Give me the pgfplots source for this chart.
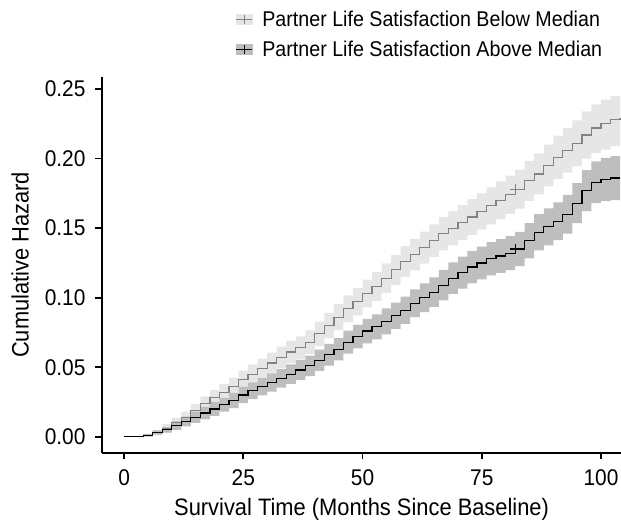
\documentclass[border=0pt]{standalone}
\usepackage{fontspec}
\setmainfont{Liberation Sans}[FakeStretch=0.92]
\usepackage{pgfplots}
\pgfplotsset{compat=1.18}
\usepgfplotslibrary{fillbetween}
\usepackage{pgfplotstable}
\definecolor{bandA}{RGB}{230,230,230}
\definecolor{bandB}{RGB}{190,190,190}
\definecolor{lineA}{RGB}{130,130,130}
\pgfplotstableread{
t G Gl Gu B Bl Bu
0 0 0 0 0 0 0
2 0 0 0.0005 0 0 0.0005
4 0.001 0.000 0.002 0.001 0 0.002
6 0.003 0.001 0.005 0.003 0.0015 0.0045
8 0.006 0.003 0.009 0.005 0.003 0.007
10 0.010 0.0065 0.0135 0.008 0.005 0.011
12 0.014 0.010 0.018 0.011 0.0075 0.0145
14 0.019 0.0145 0.0235 0.014 0.010 0.018
16 0.024 0.019 0.029 0.017 0.0125 0.0215
18 0.028 0.0225 0.0335 0.020 0.015 0.025
20 0.032 0.026 0.038 0.023 0.018 0.028
22 0.036 0.0297 0.0423 0.026 0.0205 0.0315
24 0.041 0.0344 0.0476 0.030 0.0242 0.0358
26 0.045 0.038 0.052 0.033 0.027 0.039
28 0.049 0.0418 0.0562 0.036 0.0298 0.0422
30 0.053 0.0455 0.0605 0.039 0.0325 0.0455
32 0.057 0.0492 0.0648 0.042 0.0353 0.0487
34 0.061 0.053 0.069 0.045 0.038 0.052
36 0.064 0.0558 0.0722 0.048 0.0408 0.0552
38 0.068 0.0595 0.0765 0.051 0.0436 0.0584
40 0.074 0.0652 0.0828 0.055 0.0474 0.0626
42 0.080 0.071 0.089 0.059 0.0512 0.0668
44 0.086 0.0767 0.0953 0.063 0.055 0.071
46 0.092 0.0824 0.1016 0.068 0.0597 0.0763
48 0.097 0.0872 0.1068 0.072 0.0635 0.0805
50 0.103 0.093 0.113 0.076 0.0672 0.0848
52 0.108 0.0977 0.1183 0.079 0.070 0.088
54 0.114 0.1034 0.1246 0.083 0.0737 0.0923
56 0.120 0.1092 0.1308 0.087 0.0775 0.0965
58 0.126 0.115 0.137 0.091 0.0812 0.1008
60 0.131 0.1197 0.1423 0.096 0.086 0.106
62 0.136 0.1245 0.1475 0.100 0.0897 0.1103
64 0.141 0.1292 0.1528 0.104 0.0934 0.1146
66 0.146 0.134 0.158 0.109 0.098 0.120
68 0.150 0.1377 0.1623 0.114 0.1027 0.1253
70 0.154 0.1414 0.1666 0.118 0.1065 0.1295
72 0.158 0.1452 0.1708 0.122 0.1103 0.1337
74 0.162 0.149 0.175 0.125 0.1132 0.1368
76 0.166 0.1527 0.1793 0.128 0.116 0.140
78 0.170 0.1564 0.1836 0.130 0.1179 0.1421
80 0.174 0.1602 0.1878 0.132 0.1198 0.1442
82 0.178 0.164 0.192 0.135 0.1226 0.1474
84 0.184 0.1697 0.1983 0.141 0.1283 0.1537
86 0.189 0.1743 0.2037 0.147 0.134 0.160
88 0.195 0.180 0.210 0.151 0.1377 0.1643
90 0.201 0.1855 0.2165 0.155 0.1414 0.1686
92 0.206 0.190 0.222 0.160 0.146 0.174
94 0.211 0.1945 0.2275 0.168 0.1537 0.1823
96 0.217 0.200 0.234 0.177 0.1623 0.1917
98 0.222 0.2042 0.2390 0.183 0.168 0.198
100 0.225 0.2065 0.2425 0.185 0.1695 0.2005
102 0.228 0.209 0.2450 0.186 0.1702 0.2018
104 0.229 0.2095 0.2460 0.186 0.170 0.202
}\km
\begin{document}
\begin{tikzpicture}
\begin{axis}[
  width=388.5pt, height=281.25pt, scale only axis,
  xmin=-4.6, xmax=104.2, ymin=-0.0115, ymax=0.2586,
  axis lines=left,
  axis line style={-, line width=1.3pt, black},
  tick style={line width=1.3pt, black},
  major tick length=5pt, tick align=outside,
  xtick={0,25,50,75,100},
  ytick={0,0.05,0.10,0.15,0.20,0.25},
  yticklabel style={/pgf/number format/.cd, fixed, fixed zerofill, precision=2, /tikz/.cd, xshift=-4pt},
  xticklabel style={yshift=-4pt},
  /pgf/number format/assume math mode=true,
  ticklabel style={font=\fontsize{17}{20}\selectfont},
  xlabel={Survival Time (Months Since Baseline)},
  ylabel={Cumulative Hazard},
  label style={font=\fontsize{17.8}{21}\selectfont},
  xlabel style={at={(axis description cs:0.5,-0.152)}, anchor=center},
  ylabel style={at={(axis description cs:-0.158,0.5)}, anchor=center},
  legend style={draw=none, fill=none, inner sep=0pt, at={(0.257,1)}, anchor=south west,
    yshift=12.9pt, row sep=7.3pt, column sep=6pt, font=\fontsize{16}{19}\selectfont,
    nodes={inner sep=1pt}, cells={anchor=west}},
]
\addlegendimage{legend image code/.code={
  \fill[bandA] (0pt,-3.75pt) rectangle (12pt,3.75pt);
  \draw[lineA, line width=0.9pt] (0pt,0pt) -- (12pt,0pt);
  \draw[lineA, line width=0.6pt] (6pt,-3.5pt) -- (6pt,3.5pt);}}
\addlegendentry{Partner Life Satisfaction Below Median}
\addlegendimage{legend image code/.code={
  \fill[bandB] (0pt,-3.75pt) rectangle (12pt,3.75pt);
  \draw[black, line width=0.9pt] (0pt,0pt) -- (12pt,0pt);
  \draw[black, line width=0.6pt] (6pt,-3.5pt) -- (6pt,3.5pt);}}
\addlegendentry{Partner Life Satisfaction Above Median}

\addplot[name path=gu, draw=none, const plot, forget plot] table[x=t,y=Gu]{\km};
\addplot[name path=gl, draw=none, const plot, forget plot] table[x=t,y=Gl]{\km};
\addplot[fill=bandA, draw=none, forget plot] fill between[of=gu and gl];
\addplot[name path=bu, draw=none, const plot, forget plot] table[x=t,y=Bu]{\km};
\addplot[name path=bl, draw=none, const plot, forget plot] table[x=t,y=Bl]{\km};
\addplot[fill=bandB, draw=none, forget plot] fill between[of=bu and bl];

\addplot[const plot, lineA, line width=0.9pt, forget plot] table[x=t,y=G]{\km};
\addplot[const plot, black, line width=0.9pt, forget plot] table[x=t,y=B]{\km};
\addplot[only marks, mark=+, mark size=3.75pt, lineA, mark options={line width=0.9pt}, forget plot] coordinates {(82,0.178)};
\addplot[only marks, mark=+, mark size=3.75pt, black, mark options={line width=0.9pt}, forget plot] coordinates {(82,0.135)};
\end{axis}
\pgfresetboundingbox
\path ([shift={(-76.5pt,-54.75pt)}]current axis.south west) rectangle ([shift={(0pt,57.75pt)}]current axis.north east);
\end{tikzpicture}
\end{document}
